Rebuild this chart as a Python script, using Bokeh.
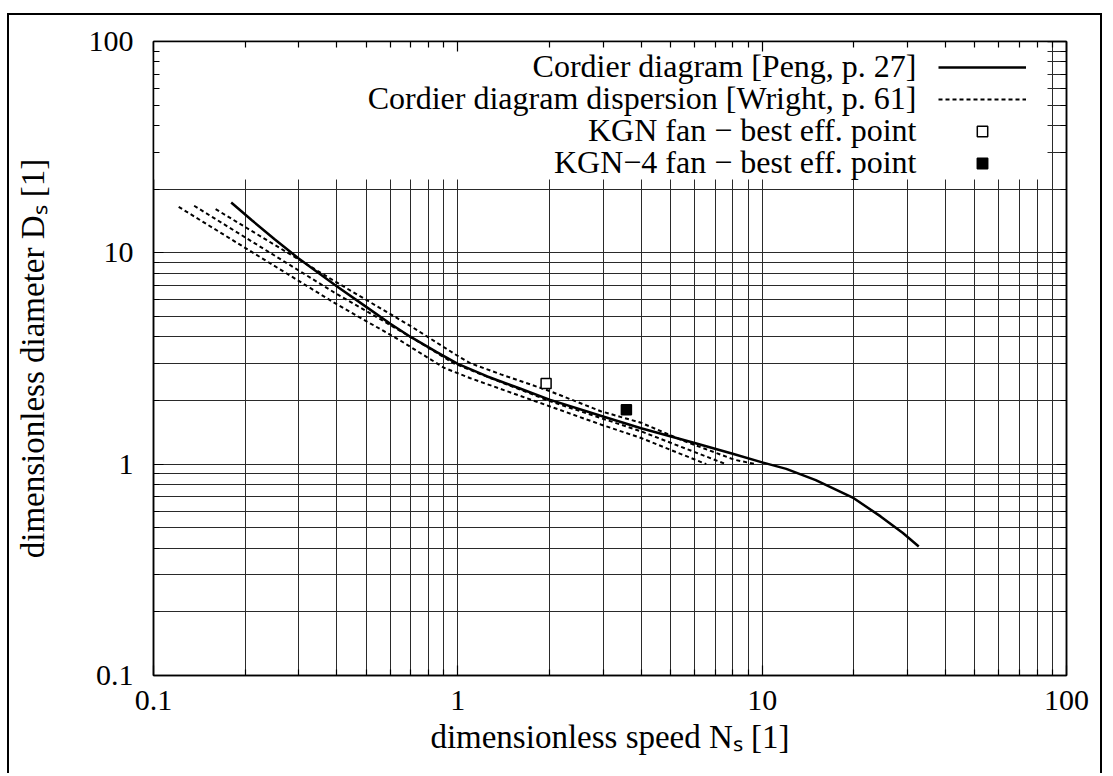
from bokeh.plotting import figure
from bokeh.models import (LogAxis, FixedTicker, NumeralTickFormatter, Label,
                          BoxAnnotation, Legend, LegendItem)
from bokeh.embed import file_html
from bokeh.resources import INLINE

# ---- data ----
ns_peng = [0.18, 0.21, 0.25, 0.3, 0.4, 0.5, 0.6, 0.7, 0.85, 1.0, 1.25, 1.6, 2.0, 3.0,
           4.0, 6.0, 8.0, 10, 12, 15, 20, 24.5, 29, 32.7]
ds_peng = [17.3, 14.3, 11.6, 9.4, 6.95, 5.55, 4.62, 4.0, 3.4, 2.98, 2.6, 2.28, 2.02, 1.68,
           1.48, 1.26, 1.12, 1.02, 0.95, 0.84, 0.69, 0.566, 0.472, 0.408]

ns_disp_upper = [0.16, 0.392, 0.7, 1.0, 1.1, 1.385, 2.0, 2.95, 4.0, 5.55, 8.1, 9.5]
ds_disp_upper = [16.1, 7.37, 4.5, 3.25, 3.0, 2.66, 2.22, 1.78, 1.57, 1.285, 1.05, 1.0]

ns_disp_mid = [0.136, 0.392, 0.7, 0.97, 1.2, 2.0, 4.0, 7.6]
ds_disp_mid = [16.7, 6.5, 4.0, 3.0, 2.65, 1.99, 1.43, 1.0]

ns_disp_lower = [0.121, 0.392, 0.65, 0.90, 1.1, 2.0, 2.95, 4.0, 6.55]
ds_disp_lower = [16.5, 5.81, 3.83, 2.86, 2.55, 1.88, 1.54, 1.33, 1.0]

kgn_ns, kgn_ds = [1.95], [2.41]
kgn4_ns, kgn4_ds = [3.58], [1.81]

major_ticks = [0.1, 1, 10, 100]
minor_ticks = [m * 10.0 ** e for e in (-1, 0, 1) for m in range(2, 10)]

legend_texts = ["Cordier diagram [Peng, p. 27]",
                "Cordier diagram dispersion [Wright, p. 61]",
                "KGN fan \u2212 best eff. point",
                "KGN\u22124 fan \u2212 best eff. point"]

x_title = "dimensionless speed N\u209b [1]"
y_title = "dimensionless diameter D\u209b [1]"

FONT = "Liberation Serif"

p = figure(width=1095, height=760, x_axis_type="log", y_axis_type="log",
           x_range=(0.1, 100), y_range=(0.1, 100),
           output_backend="svg", toolbar_location=None,
           min_border_left=144, min_border_right=38,
           min_border_top=26, min_border_bottom=100,
           background_fill_color="white", border_fill_color="white")
p.styles = {"border-left": "2px solid black", "border-right": "2px solid black",
            "border-top": "2px solid black", "margin-top": "13px", "margin-left": "7px"}

p.outline_line_color = "black"
p.outline_line_width = 1.5

ticker = FixedTicker(ticks=major_ticks, minor_ticks=minor_ticks)


def style_axis(ax, show_labels):
    ax.ticker = ticker
    ax.formatter = NumeralTickFormatter(format="0.[0]")
    ax.axis_line_color = "black"
    ax.axis_line_width = 1.5
    ax.major_tick_in = 10
    ax.major_tick_out = 0
    ax.minor_tick_in = 6
    ax.minor_tick_out = 0
    ax.major_tick_line_color = "black"
    ax.minor_tick_line_color = "black"
    ax.major_tick_line_width = 1.2
    ax.minor_tick_line_width = 1.2
    if show_labels:
        ax.major_label_text_font = FONT
        ax.major_label_text_font_size = "30px"
        ax.major_label_text_color = "black"
        ax.axis_label_text_font = FONT
        ax.axis_label_text_font_size = "33px"
        ax.axis_label_text_font_style = "normal"
        ax.axis_label_text_color = "black"
    else:
        ax.major_label_text_font_size = "1px"
        ax.major_label_text_color = None
        ax.axis_label = None


for ax in p.xaxis:
    style_axis(ax, True)
    ax.major_label_standoff = 15
    ax.axis_label = x_title
    ax.axis_label_standoff = 6
for ax in p.yaxis:
    style_axis(ax, True)
    ax.major_label_standoff = 20
    ax.axis_label = y_title
    ax.axis_label_standoff = 35

top_axis = LogAxis()
style_axis(top_axis, False)
p.add_layout(top_axis, "above")
right_axis = LogAxis()
style_axis(right_axis, False)
p.add_layout(right_axis, "right")

for g in (p.xgrid, p.ygrid):
    g.ticker = ticker
    g.grid_line_color = "#2a2a2a"
    g.grid_line_width = 1
    g.minor_grid_line_color = "#2a2a2a"
    g.minor_grid_line_width = 1

# opaque key box (covers the grid, below the ticks)
key_box = BoxAnnotation(right=894, right_units="screen", bottom=496, bottom_units="screen",
                        fill_color="white", fill_alpha=1.0, line_color=None,
                        level="underlay")
p.add_layout(key_box)

# ---- data ----
r_peng = p.line(ns_peng, ds_peng, line_color="black", line_width=2.5)
r_disp = []
for xs, ys in ((ns_disp_upper, ds_disp_upper), (ns_disp_mid, ds_disp_mid),
               (ns_disp_lower, ds_disp_lower)):
    r_disp.append(p.line(xs, ys, line_color="black", line_width=2, line_dash="4 3"))
r_kgn = p.scatter(kgn_ns, kgn_ds, marker="square", size=10, fill_color="white",
                  line_color="black", line_width=1.5)
r_kgn4 = p.scatter(kgn4_ns, kgn4_ds, marker="square", size=10, fill_color="black",
                   line_color="black", line_width=1.5)

# ---- key: samples via a Legend, texts right-aligned to their left ----
legend = Legend(items=[LegendItem(label=" ", renderers=[r_peng]),
                       LegendItem(label=" ", renderers=[r_disp[0]]),
                       LegendItem(label=" ", renderers=[r_kgn]),
                       LegendItem(label=" ", renderers=[r_kgn4])],
                location=(785, 499), glyph_width=88, glyph_height=26, spacing=6,
                padding=0, margin=0, label_standoff=0, label_width=1,
                label_text_font_size="1px", label_text_color=None,
                border_line_color=None, background_fill_alpha=0)
p.add_layout(legend)

row_baselines = [610, 578, 546, 514]
for txt, yb in zip(legend_texts, row_baselines):
    p.add_layout(Label(x=763, y=yb, x_units="screen", y_units="screen", text=txt,
                       text_align="right", text_baseline="alphabetic",
                       text_font=FONT, text_font_size="32px", text_color="black"))

open("out.html", "w").write(file_html(p, INLINE))
